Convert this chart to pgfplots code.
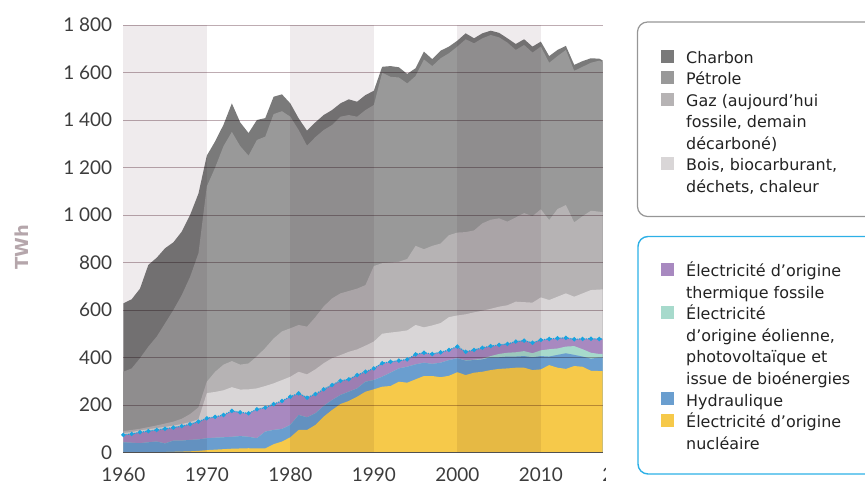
\documentclass[border=0pt]{standalone}
\usepackage{fontspec}
\setmainfont{DejaVu Sans}
\newfontfamily\tickfont{Lato}
\usepackage{pgfplots}
\usepackage{pgfplotstable}
\pgfplotsset{compat=1.18}

\definecolor{charbon}{RGB}{122,122,122}
\definecolor{petrole}{RGB}{153,153,153}
\definecolor{gaz}{RGB}{182,179,180}
\definecolor{bois}{RGB}{217,214,215}
\definecolor{thermique}{RGB}{168,137,192}
\definecolor{eolien}{RGB}{167,218,204}
\definecolor{hydro}{RGB}{106,158,207}
\definecolor{nucleaire}{RGB}{246,201,74}
\definecolor{elec}{RGB}{24,164,224}
\definecolor{bandc}{RGB}{239,235,237}
\definecolor{gridc}{RGB}{190,172,178}
\definecolor{axisc}{RGB}{80,80,80}
\definecolor{tickc}{RGB}{60,60,60}
\definecolor{twhc}{RGB}{181,166,171}
\definecolor{legc}{RGB}{34,34,34}
\definecolor{box1}{RGB}{150,150,150}
\definecolor{box2}{RGB}{45,176,230}

% cumulative tops of each layer, TWh
\pgfplotstableread{
year nuc hyd ren tot bois gaz pet cha
1960 0 43 43 74 82 90 340 628
1961 0 41 41 78 86 95 354 645
1962 0 39 39 85 93 100 397 690
1963 0 43 43 90 98 107 446 790
1964 0 46 46 95 103 114 488 820
1965 2 38 38 100 108 122 544 860
1966 3 50 50 105 113 130 600 885
1967 4 50 50 111 120 142 663 930
1968 5 53 53 119 128 162 740 1000
1969 7 55 55 130 140 190 839 1090
1970 10 60 60 144 250 298 1120 1250
1971 12 62 62 150 255 340 1200 1310
1972 14 64 64 158 262 370 1290 1380
1973 16 66 66 175 275 385 1350 1470
1974 17 69 69 169 265 370 1290 1390
1975 18 66 66 165 266 375 1250 1345
1976 17 60 60 182 270 405 1316 1400
1977 17 88 88 189 280 440 1330 1408
1978 35 95 95 204 291 480 1425 1498
1979 46 99 99 217 305 510 1437 1508
1980 64 116 116 235 319 523 1414 1470
1981 95 158 158 249 340 537 1358 1407
1982 95 148 148 231 329 530 1292 1355
1983 116 165 165 246 350 570 1328 1390
1984 151 196 196 266 376 615 1358 1421
1985 179 221 221 284 397 649 1379 1442
1986 204 242 242 302 410 670 1414 1470
1987 217 256 256 308 424 680 1421 1487
1988 235 270 270 326 434 690 1414 1477
1989 256 298 298 340 450 705 1442 1505
1990 266 305 305 354 467 785 1463 1523
1991 277 319 319 376 500 797 1599 1624
1992 280 336 336 382 505 800 1582 1627
1993 298 354 354 387 509 803 1579 1622
1994 294 361 361 392 514 815 1554 1594
1995 308 371 371 413 537 870 1585 1618
1996 322 378 378 420 527 856 1655 1688
1997 322 373 373 415 535 870 1627 1656
1998 317 378 378 422 545 880 1660 1692
1999 323 389 389 432 570 915 1681 1709
2000 338 397 397 446 577 926 1709 1734
2001 326 387 388 424 582 928 1740 1765
2002 336 389 391 432 590 935 1723 1744
2003 340 392 395 441 597 965 1744 1765
2004 347 401 406 448 605 980 1758 1776
2005 352 401 415 453 614 986 1748 1767
2006 354 404 420 457 620 972 1726 1744
2007 357 404 422 467 635 990 1695 1720
2008 357 406 427 471 633 1008 1716 1740
2009 347 401 418 462 631 995 1684 1709
2010 350 406 430 474 653 1024 1709 1730
2011 368 404 435 478 642 979 1641 1669
2012 357 411 438 481 656 1025 1669 1695
2013 352 418 446 483 670 1042 1695 1712
2014 364 411 448 477 656 969 1607 1632
2015 361 404 435 478 670 995 1624 1648
2016 344 395 420 479 684 1018 1641 1660
2017 343 400 415 478 686 1014 1650 1658
2018 343 400 415 478 688 1010 1635 1640
}\energie

\newcommand{\legfont}{\fontsize{16}{21.5}\selectfont\color{legc}}

\begin{document}
\begin{tikzpicture}
\useasboundingbox (0,0) rectangle (865bp,-485bp);

\begin{axis}[
  at={(123.3bp,-452.5bp)},
  anchor=south west,
  scale only axis,
  width=479.4bp,
  height=427.5bp,
  xmin=1960, xmax=2017.41,
  ymin=0, ymax=1800,
  clip mode=individual,
  axis line style={draw=none},
  tick style={draw=none},
  xtick={1960,1970,1980,1990,2000,2010},
  xticklabels={1960,1970,1980,1990,2000,2010},
  ytick={0,200,400,600,800,1000,1200,1400,1600,1800},
  yticklabels={0,200,400,600,800,1 000,1 200,1 400,1 600,1 800},
  tick label style={font=\tickfont\fontsize{19}{19}\selectfont, color=tickc},
  xticklabel style={anchor=north, inner sep=0pt, yshift=-15.5bp},
  yticklabel style={anchor=east, inner sep=0pt, xshift=-11bp},
]
\addplot[draw=none, fill=charbon] table[x=year,y=cha]{\energie} \closedcycle;
\addplot[draw=none, fill=petrole] table[x=year,y=pet]{\energie} \closedcycle;
\addplot[draw=none, fill=gaz] table[x=year,y=gaz]{\energie} \closedcycle;
\addplot[draw=none, fill=bois] table[x=year,y=bois]{\energie} \closedcycle;
\addplot[draw=none, fill=thermique] table[x=year,y=tot]{\energie} \closedcycle;
\addplot[draw=none, fill=eolien] table[x=year,y=ren]{\energie} \closedcycle;
\addplot[draw=none, fill=hydro] table[x=year,y=hyd]{\energie} \closedcycle;
\addplot[draw=none, fill=nucleaire] table[x=year,y=nuc]{\energie} \closedcycle;

\begin{scope}[blend mode=multiply]
  \fill[bandc] (axis cs:1960,0) rectangle (axis cs:1970,1800);
  \fill[bandc] (axis cs:1980,0) rectangle (axis cs:1990,1800);
  \fill[bandc] (axis cs:2000,0) rectangle (axis cs:2010,1800);
  \pgfplotsinvokeforeach{200,400,600,800,1000,1200,1400,1600,1800}{
    \draw[gridc, line width=0.9bp] (axis cs:1960,#1) -- (axis cs:2017.41,#1);
  }
\end{scope}

\addplot[elec, line width=1.2bp, densely dotted, mark=*, mark size=1.5bp,
  mark options={solid}] table[x=year,y=tot]{\energie};

\draw[axisc, line width=1.2bp] (axis cs:1960,0) -- (axis cs:2017.41,0);
\end{axis}

% clipped 2020 label at the cut edge
\begin{scope}
  \clip (0,0) rectangle (605bp,-485bp);
  \node[anchor=north, inner sep=0pt, font=\tickfont\fontsize{19}{19}\selectfont,
    color=tickc] at (624.3bp,-468bp) {2020};
\end{scope}

\node[rotate=90, font=\bfseries\fontsize{18}{18}\selectfont, color=twhc]
  at (22bp,-247bp) {TWh};

% legend boxes
\draw[box1, line width=1.2bp, rounded corners=10bp]
  (637.5bp,-22bp) rectangle (900bp,-216.5bp);
\draw[box2, line width=1.4bp, rounded corners=10bp]
  (638bp,-236.5bp) rectangle (900bp,-474bp);

\fill[charbon]  (661bp,-62.7bp)  rectangle ++(13bp,13bp);
\fill[petrole]  (661bp,-84.2bp)  rectangle ++(13bp,13bp);
\fill[gaz]      (661bp,-105.7bp) rectangle ++(13bp,13bp);
\fill[bois]     (661bp,-170.2bp) rectangle ++(13bp,13bp);

\node[anchor=base west, inner sep=0pt, font=\legfont] at (686bp,-63.3bp) {Charbon};
\node[anchor=base west, inner sep=0pt, font=\legfont] at (686bp,-84.8bp) {Pétrole};
\node[anchor=base west, inner sep=0pt, font=\legfont] at (686bp,-106.3bp) {Gaz (aujourd’hui};
\node[anchor=base west, inner sep=0pt, font=\legfont] at (686bp,-127.8bp) {fossile, demain};
\node[anchor=base west, inner sep=0pt, font=\legfont] at (686bp,-149.3bp) {décarboné)};
\node[anchor=base west, inner sep=0pt, font=\legfont] at (686bp,-170.8bp) {Bois, biocarburant,};
\node[anchor=base west, inner sep=0pt, font=\legfont] at (686bp,-192.3bp) {déchets, chaleur};

\fill[thermique] (661bp,-276.1bp) rectangle ++(13bp,13bp);
\fill[eolien]    (661bp,-319.2bp) rectangle ++(13bp,13bp);
\fill[hydro]     (661bp,-405.4bp) rectangle ++(13bp,13bp);
\fill[nucleaire] (661bp,-427bp)   rectangle ++(13bp,13bp);

\node[anchor=base west, inner sep=0pt, font=\legfont] at (686bp,-276.7bp) {Électricité d’origine};
\node[anchor=base west, inner sep=0pt, font=\legfont] at (686bp,-298.3bp) {thermique fossile};
\node[anchor=base west, inner sep=0pt, font=\legfont] at (686bp,-319.8bp) {Électricité};
\node[anchor=base west, inner sep=0pt, font=\legfont] at (686bp,-341.4bp) {d’origine éolienne,};
\node[anchor=base west, inner sep=0pt, font=\legfont] at (686bp,-362.9bp) {photovoltaïque et};
\node[anchor=base west, inner sep=0pt, font=\legfont] at (686bp,-384.5bp) {issue de bioénergies};
\node[anchor=base west, inner sep=0pt, font=\legfont] at (686bp,-406bp) {Hydraulique};
\node[anchor=base west, inner sep=0pt, font=\legfont] at (686bp,-427.6bp) {Électricité d’origine};
\node[anchor=base west, inner sep=0pt, font=\legfont] at (686bp,-449.1bp) {nucléaire};
\end{tikzpicture}
\end{document}
